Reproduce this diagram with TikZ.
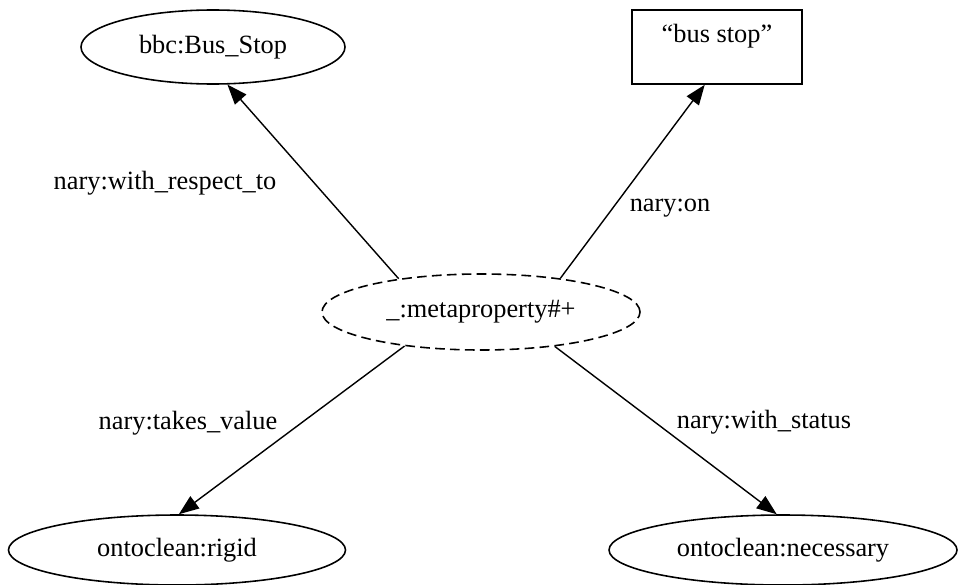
\documentclass[tikz,border=0pt]{standalone}
\usepackage{fontspec}
\setmainfont{Liberation Serif}
\usepackage{tikz}
\usetikzlibrary{arrows.meta}
\usetikzlibrary{shapes.geometric}
\tikzset{res/.style = {draw, ellipse, inner sep = 0, line width = 0.9pt}}
\tikzset{litbox/.style = {draw, rectangle, inner sep = 0, line width = 0.9pt}}
\tikzset{edge/.style = {-{Triangle[length = 0.4cm, width = 0.3cm]}, line width = 0.8pt}}

\begin{document}
\begin{tikzpicture}[font = \fontsize{15}{18}\selectfont]
      \useasboundingbox (0, 0) rectangle (19.18, 11.68);

      \node [res, minimum width = 5.28cm, minimum height = 1.48cm] (bus) at (4.26, 10.74) {bbc:Bus\_Stop};
      \node [litbox, minimum width = 3.4cm, text height = 0.66cm, text depth = 0.82cm] (lit) at (14.34, 10.74) {“bus stop”\hspace{0.32cm}};

      \node [res, dashed, dash pattern = on 5.5pt off 3pt, minimum width = 6.36cm, minimum height = 1.52cm] (meta) at (9.62, 5.44) {\_:metaproperty\#+};

      \node [res, minimum width = 6.74cm, minimum height = 1.4cm] (rigid) at (3.54, 0.68) {ontoclean:rigid\hspace{0.96cm}};
      \node [res, minimum width = 6.96cm, minimum height = 1.4cm] (nec) at (15.66, 0.68) {ontoclean:necessary};

      \draw [edge] (meta.158) -- (bus.291);
      \draw [edge] (meta.23) -- (lit.252);
      \draw [edge] (meta.204) -- (rigid.87);
      \draw [edge] (meta.335) -- (nec.100);

      \node (wrt) at (3.30, 8.02) {nary:with\_respect\_to};
      \node (on) at (13.40, 7.52) {nary:on};
      \node (takes) at (3.76, 3.22) {nary:takes\_value};
      \node (status) at (15.28, 3.24) {nary:with\_status};
    \end{tikzpicture}
\end{document}
